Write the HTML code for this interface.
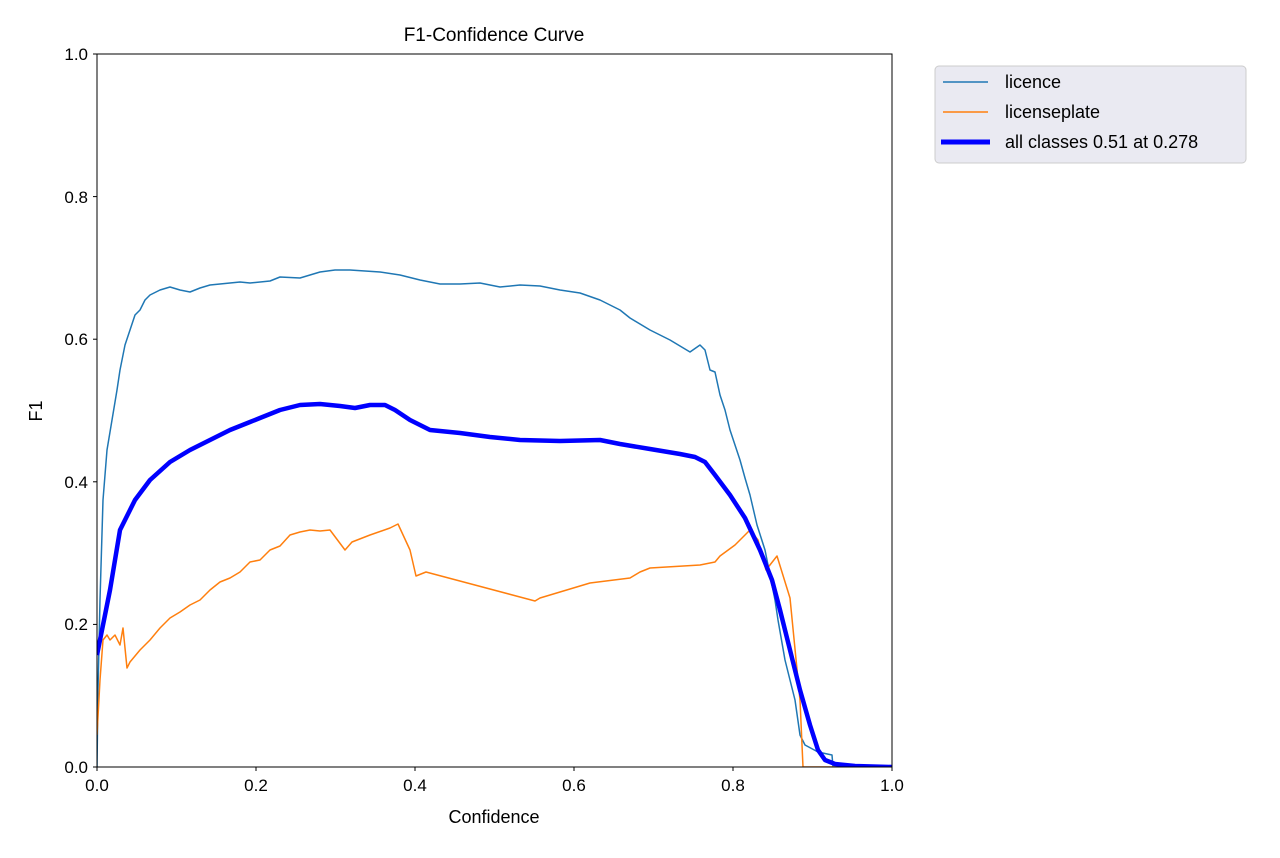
<!DOCTYPE html>
<html><head><meta charset="utf-8"><style>
html,body{margin:0;padding:0;background:#fff;}
svg text{font-family:"Liberation Sans",sans-serif;fill:#000;}
</style></head><body>
<svg width="1280" height="853" xmlns="http://www.w3.org/2000/svg">
<rect width="1280" height="853" fill="#fff"/>
<defs><clipPath id="c"><rect x="97" y="54" width="795" height="713"/></clipPath></defs>
<g clip-path="url(#c)" fill="none" stroke-linejoin="round">
<polyline stroke="#1f77b4" stroke-width="1.5" points="97,767 98,690 100,600 103,500 107,450 112,420 117,390 120,370 125,345 130,330 135,315 140,310 145,300 150,295 160,290 170,287 180,290 190,292 200,288 210,285 220,284 240,282 250,283 270,281 280,277 300,278 320,272 335,270 350,270 380,272 400,275 420,280 440,284 460,284 480,283 500,287 520,285 540,286 560,290 580,293 600,300 620,310 630,318 650,330 670,340 690,352 700,345 705,350 710,370 715,372 720,395 725,410 730,430 735,445 740,460 745,478 750,495 757,525 765,550 770,575 775,600 778,620 785,660 790,680 795,700 800,735 805,745 818,752 832,755 833,767 892,767"/>
<polyline stroke="#ff7f0e" stroke-width="1.5" points="97,735 100,680 103,640 107,635 110,640 115,635 120,645 123,628 127,668 130,662 140,650 150,640 160,628 170,618 180,612 190,605 200,600 210,590 220,582 230,578 240,572 250,562 260,560 270,550 280,546 290,535 300,532 310,530 320,531 330,530 345,550 352,542 370,535 390,528 398,524 410,550 416,576 426,572 535,601 540,598 560,592 590,583 630,578 640,572 650,568 700,565 715,562 720,556 735,545 750,530 758,540 766,570 777,556 790,598 800,700 803,767 892,767"/>
<polyline stroke="#0000ff" stroke-width="4.5" points="97,655 100,640 105,615 110,590 115,560 120,530 125,520 135,500 150,480 170,462 190,450 210,440 230,430 250,422 260,418 280,410 300,405 320,404 340,406 355,408 370,405 385,405 395,410 410,420 430,430 460,433 490,437 520,440 560,441 600,440 620,444 650,449 680,454 695,457 705,462 715,475 730,495 745,518 760,550 772,580 780,610 790,650 800,690 810,725 818,750 825,760 835,764 855,766 892,767"/>
</g>
<rect x="97" y="54" width="795" height="713" fill="none" stroke="#000" stroke-width="1"/>
<g stroke="#000" stroke-width="1">
<line x1="97" y1="767" x2="97" y2="771"/><line x1="256" y1="767" x2="256" y2="771"/><line x1="415" y1="767" x2="415" y2="771"/><line x1="574" y1="767" x2="574" y2="771"/><line x1="733" y1="767" x2="733" y2="771"/><line x1="892" y1="767" x2="892" y2="771"/>
<line x1="93" y1="767" x2="97" y2="767"/><line x1="93" y1="624.4" x2="97" y2="624.4"/><line x1="93" y1="481.8" x2="97" y2="481.8"/><line x1="93" y1="339.2" x2="97" y2="339.2"/><line x1="93" y1="196.6" x2="97" y2="196.6"/><line x1="93" y1="54" x2="97" y2="54"/>
</g>
<g font-size="17" text-anchor="middle">
<text x="97" y="791">0.0</text><text x="256" y="791">0.2</text><text x="415" y="791">0.4</text><text x="574" y="791">0.6</text><text x="733" y="791">0.8</text><text x="892" y="791">1.0</text>
</g>
<g font-size="17" text-anchor="end">
<text x="88" y="773">0.0</text><text x="88" y="630">0.2</text><text x="88" y="488">0.4</text><text x="88" y="345">0.6</text><text x="88" y="203">0.8</text><text x="88" y="60">1.0</text>
</g>
<text x="494" y="823" font-size="18" text-anchor="middle">Confidence</text>
<text x="42" y="411" font-size="18" text-anchor="middle" transform="rotate(-90 42 411)">F1</text>
<text x="494" y="41" font-size="19" text-anchor="middle">F1-Confidence Curve</text>
<rect x="935" y="66" width="311" height="97" rx="4" fill="#eaeaf2" stroke="#cccccc" stroke-width="1"/>
<line x1="943" y1="82" x2="988" y2="82" stroke="#1f77b4" stroke-width="1.5"/>
<line x1="943" y1="112" x2="988" y2="112" stroke="#ff7f0e" stroke-width="1.5"/>
<line x1="941" y1="142" x2="990" y2="142" stroke="#0000ff" stroke-width="5"/>
<g font-size="18"><text x="1005" y="88">licence</text><text x="1005" y="118">licenseplate</text><text x="1005" y="148">all classes 0.51 at 0.278</text></g>
</svg>
</body></html>
